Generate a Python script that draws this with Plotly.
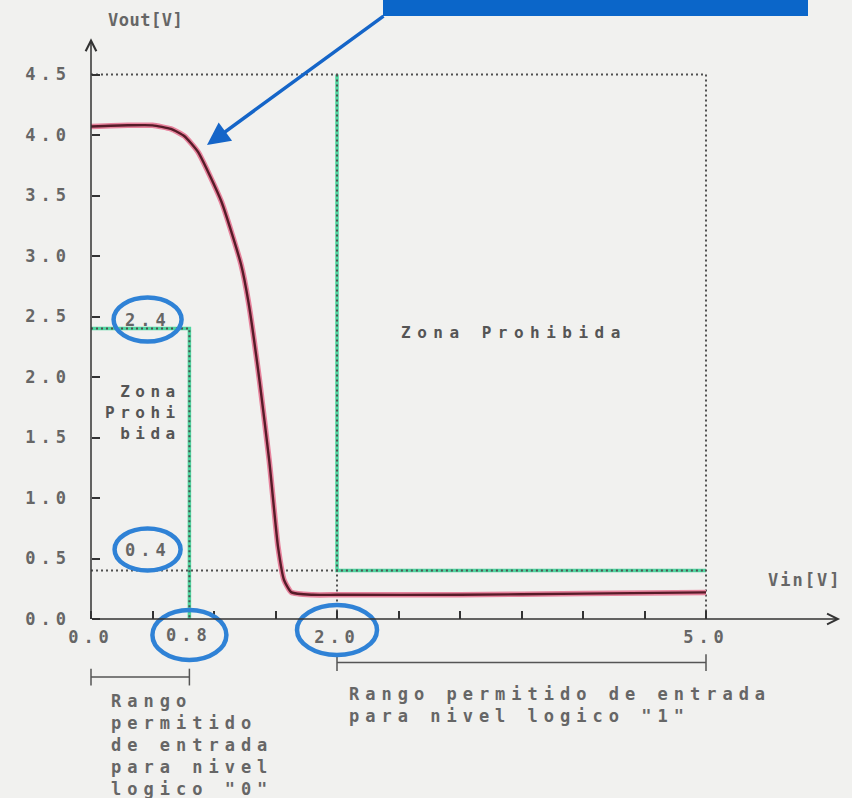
import plotly.graph_objects as go

# ---- data -------------------------------------------------------------
# inverter transfer characteristic Vout(Vin)
vin = [0.0, 0.3, 0.5, 0.65, 0.76, 0.87, 1.06, 1.22, 1.28, 1.37, 1.45,
       1.52, 1.57, 1.63, 1.8, 2.0, 3.0, 4.0, 5.0]
vout = [4.07, 4.08, 4.08, 4.05, 3.99, 3.86, 3.45, 2.93, 2.62, 1.97, 1.30,
        0.60, 0.32, 0.22, 0.20, 0.20, 0.20, 0.21, 0.22]

# logic thresholds [V]
V_IL = 0.8
V_IH = 2.0
V_OH = 2.4
V_OL = 0.4
VOUT_TOP = 4.5
VIN_MAX = 5.0

x_tickvals = [0.0, 0.5, 1.0, 1.5, 2.0, 2.5, 3.0, 3.5, 4.0, 4.5, 5.0]
x_ticklabels = ["0.0", "", "", "", "2.0", "", "", "", "", "", "5.0"]
y_tickvals = [0.0, 0.5, 1.0, 1.5, 2.0, 2.5, 3.0, 3.5, 4.0, 4.5]
y_ticklabels = ["0.0", "0.5", "1.0", "1.5", "2.0", "2.5", "3.0", "3.5", "4.0", "4.5"]

# ---- layout constants ------------------------------------------------
W, H = 852, 798
ORIGIN_PX = (91, 619)      # pixel position of (0, 0)
PX_PER_V = (123, 121)      # horizontal / vertical scale
x_range = [-ORIGIN_PX[0] / PX_PER_V[0], (W - ORIGIN_PX[0]) / PX_PER_V[0]]
y_range = [-(H - ORIGIN_PX[1]) / PX_PER_V[1], ORIGIN_PX[1] / PX_PER_V[1]]
X_AXIS_END = 6.09
Y_AXIS_END = 4.8

MONO = "DejaVu Sans Mono"
INK = "#333333"
TEXT = "#666666"
GREEN = "#4fd6a0"
RING = "#2f82d6"
BG = "#f1f1ef"


def spaced(txt, px):
    return f'<span style="letter-spacing:{px}px">{txt}</span>'


def mono(size, color=TEXT):
    return dict(family=MONO, size=size, color=color, weight="bold")


fig = go.Figure()

# green limit lines (V_OH / V_IL box and V_IH / V_OL box)
fig.add_trace(go.Scatter(
    x=[0, V_IL, V_IL, None, V_IH, V_IH, VIN_MAX],
    y=[V_OH, V_OH, 0, None, VOUT_TOP, V_OL, V_OL],
    mode="lines", line=dict(color=GREEN, width=3.5),
    hoverinfo="skip", showlegend=False))

# dotted guide lines
fig.add_trace(go.Scatter(
    x=[0, VIN_MAX, VIN_MAX, None, 0, V_IH, V_IH, None,
       0, V_IL, V_IL, None, V_IH, V_IH, VIN_MAX],
    y=[VOUT_TOP, VOUT_TOP, 0, None, V_OL, V_OL, 0, None,
       V_OH, V_OH, 0, None, VOUT_TOP, V_OL, V_OL],
    mode="lines", line=dict(color="#505050", width=2, dash="2px,3px"),
    hoverinfo="skip", showlegend=False))

# transfer curve: soft red halo plus dark core
fig.add_trace(go.Scatter(x=vin, y=vout, mode="lines",
                         line=dict(color="#e7839d", width=5.5, shape="spline", smoothing=0.5),
                         hoverinfo="skip", showlegend=False))
fig.add_trace(go.Scatter(x=vin, y=vout, mode="lines",
                         line=dict(color="#561b28", width=2.4, shape="spline", smoothing=0.5),
                         hoverinfo="skip", showlegend=False))

# input-range brackets below the axis
BRACKET_Y0 = -0.48
BRACKET_Y1 = -0.36
for xs, yb in (([0, V_IL], BRACKET_Y0), ([V_IH, VIN_MAX], BRACKET_Y1)):
    fig.add_trace(go.Scatter(
        x=xs, y=[yb, yb], mode="lines+markers",
        line=dict(color="#555555", width=1.5),
        marker=dict(symbol="line-ns-open", size=12, line=dict(color="#555555", width=1.5)),
        hoverinfo="skip", showlegend=False, cliponaxis=False))

shapes = []
# blue rings around the threshold labels (pixel-sized, anchored on the values)
rings = [
    (0.46, V_OH, 9, 68, 44),
    (0.46, V_OL, 21, 66, 42),
    (V_IL, 0, -16, 74, 50),
    (V_IH, 0, -11, 80, 50),
]
for xa, ya, dy, w, h in rings:
    shapes.append(dict(type="circle", xref="x", yref="y",
                       xsizemode="pixel", ysizemode="pixel",
                       xanchor=xa, yanchor=ya,
                       x0=-w / 2, x1=w / 2, y0=dy - h / 2, y1=dy + h / 2,
                       line=dict(color=RING, width=4.5), layer="above"))

# blue banner at the top edge
shapes.append(dict(type="rect", xref="paper", yref="paper",
                   x0=383 / W, x1=808 / W, y0=1 - 16 / H, y1=1.01,
                   fillcolor="#0b66c9", line=dict(width=0), layer="above"))

annotations = []
# axes with arrow tips
annotations.append(dict(x=0, y=Y_AXIS_END, ax=0, ay=0, axref="x", ayref="y",
                        xref="x", yref="y", text="", showarrow=True,
                        arrowhead=5, arrowsize=1.4, arrowwidth=1.5, arrowcolor=INK))
annotations.append(dict(x=X_AXIS_END, y=0, ax=0, ay=0, axref="x", ayref="y",
                        xref="x", yref="y", text="", showarrow=True,
                        arrowhead=5, arrowsize=1.4, arrowwidth=1.5, arrowcolor=INK))

annotations.append(dict(x=0.44, y=4.95, xref="x", yref="y", showarrow=False,
                        text=spaced("Vout[V]", 0.5), font=mono(17)))
annotations.append(dict(x=5.8, y=0.32, xref="x", yref="y", showarrow=False,
                        text=spaced("Vin[V]", 2), font=mono(17)))

# circled threshold values
for txt, xa, ya, dy in (("2.4", 0.46, V_OH, 9), ("0.4", 0.46, V_OL, 21),
                        ("0.8", V_IL, 0, -16)):
    annotations.append(dict(x=xa, y=ya, yshift=dy, xref="x", yref="y",
                            showarrow=False, text=spaced(txt, 5), font=mono(17)))

# forbidden-zone labels
annotations.append(dict(x=3.44, y=2.37, xref="x", yref="y", showarrow=False,
                        text=spaced("Zona Prohibida", 6.5), font=mono(16, "#555555")))
annotations.append(dict(x=0.75, y=1.71, xref="x", yref="y", showarrow=False,
                        xanchor="right", align="right",
                        text="<br>".join(spaced(s, 5.5) for s in ("Zona", "Prohi", "bida")),
                        font=mono(16, "#555555")))

# allowed input ranges
annotations.append(dict(x=0.15, y=-0.58, xref="x", yref="y", showarrow=False,
                        xanchor="left", yanchor="top", align="left",
                        text="<br>".join(spaced(s, 6) for s in
                                         ("Rango", "permitido", "de entrada",
                                          "para nivel", "logico \"0\"")),
                        font=mono(17)))
annotations.append(dict(x=2.08, y=-0.52, xref="x", yref="y", showarrow=False,
                        xanchor="left", yanchor="top", align="left",
                        text="<br>".join(spaced(s, 6) for s in
                                         ("Rango permitido de entrada",
                                          "para nivel logico \"1\"")),
                        font=mono(17)))

# pointer arrow from the banner to the knee of the curve
annotations.append(dict(x=0.943, y=3.917, xref="x", yref="y", text="",
                        showarrow=True, ax=178, ay=-130,
                        arrowhead=2, arrowsize=1.3, arrowwidth=3.5, arrowcolor="#1565c8"))

fig.update_layout(
    width=W, height=H, autosize=False,
    margin=dict(l=0, r=0, t=0, b=0),
    paper_bgcolor=BG, plot_bgcolor=BG,
    showlegend=False,
    shapes=shapes, annotations=annotations,
    xaxis=dict(range=x_range, anchor="free",
               position=(0 - y_range[0]) / (y_range[1] - y_range[0]),
               showgrid=False, zeroline=False, showline=False,
               tickmode="array", tickvals=x_tickvals,
               ticktext=[spaced(t, 5) for t in x_ticklabels],
               ticks="inside", ticklen=8, tickwidth=1.5, tickcolor=INK,
               ticklabelstandoff=6, tickfont=mono(17),
               automargin=False, fixedrange=True),
    yaxis=dict(range=y_range, anchor="free",
               position=(0 - x_range[0]) / (x_range[1] - x_range[0]),
               side="left",
               showgrid=False, zeroline=False, showline=False,
               tickmode="array", tickvals=y_tickvals,
               ticktext=[spaced(t, 5) for t in y_ticklabels],
               ticks="inside", ticklen=8, tickwidth=1.5, tickcolor=INK,
               ticklabelstandoff=20, tickfont=mono(17),
               automargin=False, fixedrange=True),
)

fig.write_html("out.html")
